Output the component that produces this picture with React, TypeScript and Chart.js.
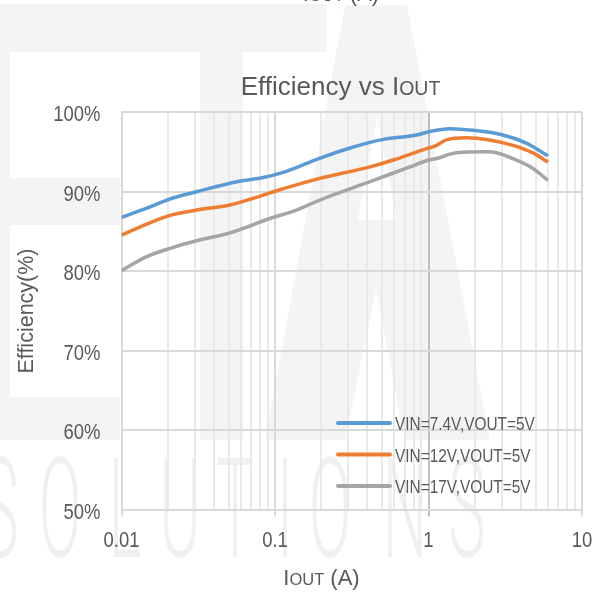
import React, { useEffect, useRef } from "react";
import { Chart, registerables } from "chart.js";

Chart.register(...registerables);

// ---- data ----
const X_DECADES = [0.01, 0.1, 1, 10];
const X_MINOR_STEPS = [2, 3, 4, 5, 6, 7, 8, 9];
const Y_MIN = 50;
const Y_MAX = 100;
const Y_STEP = 10;

const SERIES_LABELS = ["VIN=7.4V,VOUT=5V", "VIN=12V,VOUT=5V", "VIN=17V,VOUT=5V"];
const SERIES_COLORS = ["#5B9BD5", "#ED7D31", "#A5A5A5"];

const IOUT_74 = [0.01, 0.0146, 0.0207, 0.0309, 0.0563, 0.084, 0.113, 0.138, 0.187, 0.324, 0.508, 0.837, 1.02, 1.38, 1.96, 2.92, 4.36, 6.0];
const EFF_74 = [86.75, 87.9, 89.06, 89.97, 91.23, 91.75, 92.4, 93.0, 94.05, 95.6, 96.56, 97.1, 97.55, 97.9, 97.7, 97.2, 96.06, 94.5];

const IOUT_12 = [0.01, 0.0146, 0.0207, 0.0309, 0.0509, 0.0722, 0.1026, 0.196, 0.416, 0.59, 0.973, 1.1, 1.31, 1.77, 2.39, 3.55, 4.79, 6.0];
const EFF_12 = [84.5, 85.9, 87.0, 87.67, 88.3, 89.15, 90.1, 91.65, 93.1, 93.96, 95.4, 95.7, 96.5, 96.75, 96.55, 95.8, 94.85, 93.7];

const IOUT_17 = [0.01, 0.0146, 0.0207, 0.0309, 0.0509, 0.0927, 0.138, 0.196, 0.416, 0.757, 1.0, 1.13, 1.38, 1.53, 2.39, 2.78, 3.72, 4.79, 6.0];
const EFF_17 = [80.04, 81.8, 82.85, 83.8, 84.8, 86.6, 87.67, 88.93, 91.23, 93.1, 93.96, 94.15, 94.7, 94.88, 95.0, 94.88, 93.96, 92.9, 91.4];

const SERIES_X = [IOUT_74, IOUT_12, IOUT_17];
const SERIES_Y = [EFF_74, EFF_12, EFF_17];

const TITLE_MAIN = "Efficiency vs I";
const TITLE_SUB = "OUT";
const X_TITLE_MAIN = "I";
const X_TITLE_SUB = "OUT";
const X_TITLE_TAIL = " (A)";
const Y_TITLE = "Efficiency(%)";
const WATERMARK_WORD = "SOLUTIONS";

const FONT = "'Liberation Sans', Arial, sans-serif";
const TEXT_COLOR = "#595959";
const NARROW = 0.82;

function drawMixed(
  ctx: CanvasRenderingContext2D,
  parts: { t: string; s: number }[],
  cx: number,
  baseline: number
) {
  let total = 0;
  for (const p of parts) {
    ctx.font = `${p.s}px ${FONT}`;
    total += ctx.measureText(p.t).width;
  }
  let x = cx - total / 2;
  ctx.textAlign = "left";
  ctx.textBaseline = "alphabetic";
  for (const p of parts) {
    ctx.font = `${p.s}px ${FONT}`;
    ctx.fillText(p.t, x, baseline);
    x += ctx.measureText(p.t).width;
  }
}

function drawNarrow(
  ctx: CanvasRenderingContext2D,
  text: string,
  x: number,
  y: number,
  size: number,
  align: CanvasTextAlign,
  baseline: CanvasTextBaseline = "alphabetic"
) {
  ctx.save();
  ctx.translate(x, y);
  ctx.scale(NARROW, 1);
  ctx.font = `${size}px ${FONT}`;
  ctx.textAlign = align;
  ctx.textBaseline = baseline;
  ctx.fillText(text, 0, 0);
  ctx.restore();
}

const decorPlugin = {
  id: "decor",
  beforeDraw(chart: any) {
    const ctx: CanvasRenderingContext2D = chart.ctx;
    ctx.save();
    ctx.fillStyle = "#f4f4f4";
    // "T" block of the watermark
    ctx.fillRect(0, 4, 327, 48);
    ctx.fillRect(0, 52, 10, 388);
    ctx.fillRect(10, 178, 110, 47);
    ctx.fillRect(10, 397, 110, 43);
    ctx.fillRect(200, 52, 43, 388);
    // "A" block
    ctx.beginPath();
    ctx.moveTo(345, 5);
    ctx.lineTo(407, 5);
    ctx.lineTo(490, 440);
    ctx.lineTo(405, 440);
    ctx.lineTo(376, 290);
    ctx.lineTo(345, 440);
    ctx.lineTo(265, 440);
    ctx.closePath();
    ctx.fill();
    ctx.fillStyle = "#ffffff";
    ctx.beginPath();
    ctx.moveTo(377, 117);
    ctx.lineTo(397, 220);
    ctx.lineTo(358, 220);
    ctx.closePath();
    ctx.fill();
    // SOLUTIONS letters
    ctx.fillStyle = "#f0f0f0";
    ctx.textAlign = "center";
    ctx.textBaseline = "alphabetic";
    ctx.font = "300 140px Roboto, sans-serif";
    const centers = [0, 60, 125, 180, 235, 285, 330, 405, 467];
    const letters = WATERMARK_WORD.split("");
    letters.forEach((ch, i) => {
      ctx.save();
      ctx.translate(centers[i], 557);
      ctx.scale(0.45, 1);
      ctx.fillText(ch, 0, 0);
      ctx.restore();
    });
    ctx.restore();
  },
  afterDraw(chart: any) {
    const ctx: CanvasRenderingContext2D = chart.ctx;
    const area = chart.chartArea;
    const xs = chart.scales.x;
    const ys = chart.scales.y;
    ctx.save();
    ctx.fillStyle = TEXT_COLOR;
    // y tick labels
    ys.ticks.forEach((t: any) => {
      drawNarrow(ctx, `${t.value}%`, area.left - 21, ys.getPixelForValue(t.value) + 9, 22.5, "right");
    });
    // x tick labels (decades only)
    X_DECADES.forEach((v) => {
      drawNarrow(ctx, String(v), xs.getPixelForValue(v), 547, 22.5, "center");
    });
    // cut-off label of the chart above
    drawMixed(ctx, [{ t: X_TITLE_MAIN, s: 22 }, { t: X_TITLE_SUB, s: 16.5 }, { t: X_TITLE_TAIL, s: 22 }], 341, 1);
    // title
    drawMixed(ctx, [{ t: TITLE_MAIN, s: 26 }, { t: TITLE_SUB, s: 19.5 }], 340.5, 95);
    // x title
    drawMixed(ctx, [{ t: X_TITLE_MAIN, s: 22 }, { t: X_TITLE_SUB, s: 16.5 }, { t: X_TITLE_TAIL, s: 22 }], 321.5, 585);
    // y title
    ctx.save();
    ctx.translate(33, 311);
    ctx.rotate(-Math.PI / 2);
    ctx.font = `21.5px ${FONT}`;
    ctx.textAlign = "center";
    ctx.textBaseline = "alphabetic";
    ctx.fillText(Y_TITLE, 0, 0);
    ctx.restore();
    // legend
    const rowsY = [423, 454.5, 486];
    chart.data.datasets.forEach((ds: any, i: number) => {
      const y = rowsY[i];
      ctx.strokeStyle = ds.borderColor;
      ctx.lineWidth = 4;
      ctx.lineCap = "round";
      ctx.beginPath();
      ctx.moveTo(338, y);
      ctx.lineTo(390, y);
      ctx.stroke();
      ctx.fillStyle = TEXT_COLOR;
      drawNarrow(ctx, ds.label, 395, y + 7, 18.8, "left");
    });
    ctx.restore();
  },
};

export default function App() {
  const ref = useRef<HTMLCanvasElement | null>(null);
  useEffect(() => {
    if (!ref.current) return;
    const isMajor = (v: number) => X_DECADES.some((d) => Math.abs(d - v) < d * 1e-6);
    const chart = new Chart(ref.current, {
      type: "line",
      data: {
        datasets: SERIES_LABELS.map((label, i) => ({
          label,
          data: SERIES_X[i].map((x, j) => ({ x, y: SERIES_Y[i][j] })),
          borderColor: SERIES_COLORS[i],
          backgroundColor: SERIES_COLORS[i],
          borderWidth: 3.5,
          pointRadius: 0,
          tension: 0.4,
          cubicInterpolationMode: "monotone" as const,
          fill: false,
        })),
      },
      options: {
        responsive: false,
        animation: false,
        devicePixelRatio: 1,
        layout: { padding: { top: 112, right: 21, left: 0, bottom: 0 } },
        plugins: {
          legend: { display: false },
          title: { display: false },
          tooltip: { enabled: false },
        },
        scales: {
          x: {
            type: "logarithmic",
            min: X_DECADES[0],
            max: X_DECADES[X_DECADES.length - 1],
            afterBuildTicks: (axis: any) => {
              const ticks: { value: number }[] = [];
              for (let i = 0; i < X_DECADES.length - 1; i++) {
                ticks.push({ value: X_DECADES[i] });
                X_MINOR_STEPS.forEach((m) => ticks.push({ value: +(X_DECADES[i] * m).toPrecision(6) }));
              }
              ticks.push({ value: X_DECADES[X_DECADES.length - 1] });
              axis.ticks = ticks;
            },
            afterFit: (axis: any) => {
              axis.height = 83.5;
            },
            ticks: { display: false, autoSkip: false, maxRotation: 0 },
            grid: {
              lineWidth: 2,
              tickLength: 7,
              color: (c: any) =>
                c.tick && Math.abs(c.tick.value - 1) < 1e-9
                  ? "#bfbfbf"
                  : c.tick && isMajor(c.tick.value)
                  ? "#d9d9d9"
                  : "#e9e9e9",
              tickColor: (c: any) =>
                c.tick && isMajor(c.tick.value)
                  ? Math.abs(c.tick.value - 1) < 1e-9
                    ? "#bfbfbf"
                    : "#d9d9d9"
                  : "rgba(0,0,0,0)",
            },
            border: { display: true, color: "#d9d9d9", width: 2 },
          },
          y: {
            type: "linear",
            min: Y_MIN,
            max: Y_MAX,
            afterFit: (axis: any) => {
              axis.width = 121.5;
            },
            ticks: { display: false, stepSize: Y_STEP },
            grid: { lineWidth: 2, color: "#d9d9d9", drawTicks: false },
            border: { display: true, color: "#d9d9d9", width: 2 },
          },
        },
      },
      plugins: [decorPlugin],
    } as any);
    return () => chart.destroy();
  }, []);
  return (
    <div style={{ position: "fixed", left: 0, top: 0, width: 603, height: 593, background: "#ffffff" }}>
      <canvas ref={ref} width={603} height={593} style={{ width: 603, height: 593, display: "block" }} />
    </div>
  );
}
